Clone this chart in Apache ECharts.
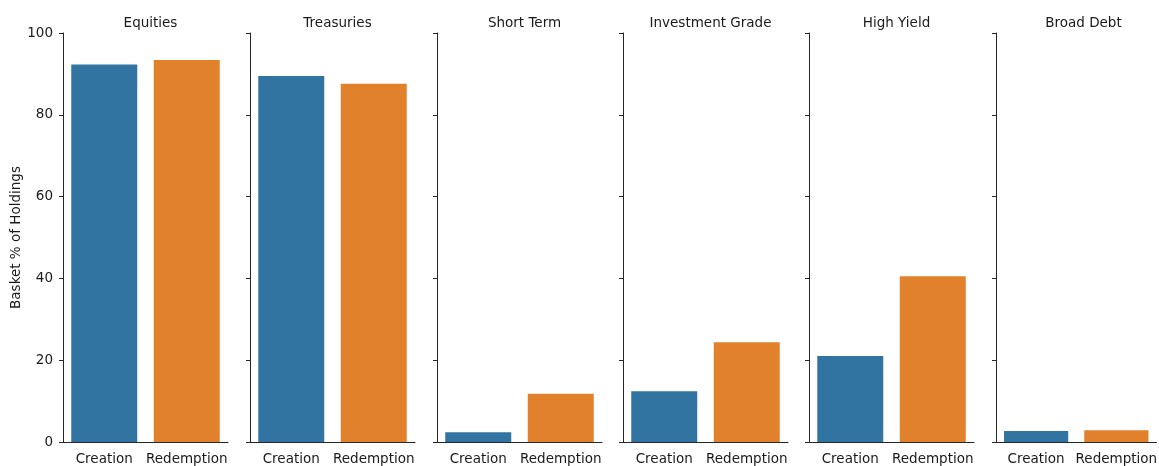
<!DOCTYPE html>
<html>
<head>
<meta charset="utf-8">
<script src="https://cdn.jsdelivr.net/npm/echarts@6/dist/echarts.min.js"></script>
<style>
  html, body { margin: 0; padding: 0; background: #fff; }
  #chart { width: 1159px; height: 466px; }
</style>
</head>
<body>
<div id="chart"></div>
<script>
const facets = ['Equities', 'Treasuries', 'Short Term', 'Investment Grade', 'High Yield', 'Broad Debt']
const basketTypes = ['Creation', 'Redemption']
const creation = [92.3, 89.5, 2.4, 12.4, 21.0, 2.7]
const redemption = [93.4, 87.6, 11.8, 24.4, 40.5, 2.9]
const yTicks = [0, 20, 40, 60, 80, 100]

const colors = ['#3274a1', '#e1812c']
const lefts = [63, 250, 437, 623, 809, 996]
const facetWidth = 165
const font = 'DejaVu Sans'
const ink = '#1a1a1a'

const chart = echarts.init(document.getElementById('chart'))

const grid = [], xAxis = [], yAxis = [], series = [], title = []

facets.forEach((name, i) => {
  grid.push({ left: lefts[i], width: facetWidth, top: 33, bottom: 22 })
  title.push({
    text: name,
    left: lefts[i] + facetWidth / 2,
    top: 11,
    textAlign: 'center',
    textStyle: { fontFamily: font, fontSize: 13.5, fontWeight: 'normal', color: ink }
  })
  xAxis.push({
    type: 'category',
    gridIndex: i,
    data: basketTypes,
    axisLine: { lineStyle: { color: '#262626', width: 1 } },
    axisTick: { alignWithLabel: true, length: 4, lineStyle: { color: '#262626' } },
    axisLabel: { interval: 0, fontFamily: font, fontSize: 13.5, color: ink, margin: 10 }
  })
  yAxis.push({
    type: 'value',
    gridIndex: i,
    min: 0,
    max: 100,
    interval: 20,
    name: i === 0 ? 'Basket % of Holdings' : '',
    nameLocation: 'middle',
    nameGap: 40,
    nameTextStyle: { fontFamily: font, fontSize: 13.5, color: ink },
    splitLine: { show: false },
    axisLine: { show: true, lineStyle: { color: '#262626', width: 1 } },
    axisTick: { show: true, length: 4, lineStyle: { color: '#262626' } },
    axisLabel: {
      show: i === 0,
      fontFamily: font,
      fontSize: 13.5,
      color: ink,
      margin: 10,
      formatter: v => (yTicks.includes(v) ? String(v) : '')
    }
  })
  series.push({
    type: 'bar',
    xAxisIndex: i,
    yAxisIndex: i,
    barWidth: '80%',
    data: [creation[i], redemption[i]].map((v, k) => ({
      value: v,
      itemStyle: { color: colors[k] }
    }))
  })
})

chart.setOption({
  animation: false,
  title,
  grid,
  xAxis,
  yAxis,
  series
})
</script>
</body>
</html>
